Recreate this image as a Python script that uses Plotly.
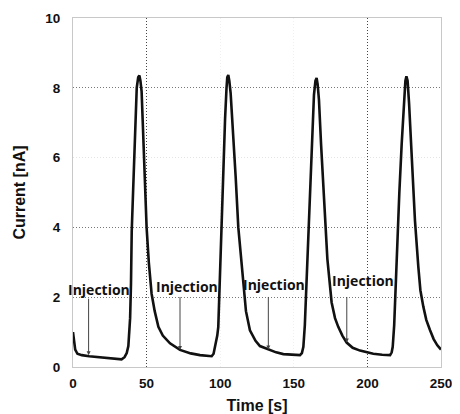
import plotly.graph_objects as go

time_s = [0, 0.8, 1.5, 3, 6, 11, 18, 25, 30, 33, 35, 36.5, 37.6, 38.3, 38.8, 39.4, 39.9,
          40.8, 41.6, 42.5, 43.3, 44.3, 45.1, 45.8, 46.6, 47.4, 48.2, 49.1, 50.0, 51.5,
          53.4, 55.5, 58, 61, 65.9, 72.7, 80, 86.3, 94.2, 95.5, 96.5, 98, 98.7, 99.3,
          99.9, 101, 102.1, 103.3, 104.3, 104.8, 105.5, 106.2, 107.1, 108.5, 110.0,
          110.5, 112.3, 114, 115.7, 117.5, 120.2, 124, 127, 132.7, 138, 142.9, 150,
          154.2, 155.5, 156.5, 157.5, 158.3, 159.9, 161, 162.2, 163.7, 164.7, 165.5,
          166.2, 167.1, 168.5, 170.5, 172.8, 175.7, 178, 180.2, 183, 185.9, 190, 195,
          200, 204, 210, 215.4, 216.5, 217.2, 218.2, 218.8, 220.3, 221.7, 223.3, 224.9,
          225.8, 226.5, 227.3, 228.3, 230.1, 232.3, 234.6, 236, 238, 240, 242.5, 245,
          247.5, 250]
current_nA = [1.0, 0.7, 0.5, 0.38, 0.34, 0.31, 0.28, 0.25, 0.22, 0.22, 0.28, 0.4, 0.6,
              1.0, 1.4, 2.4, 3.9, 5.0, 6.0, 7.2, 8.0, 8.3, 8.35, 8.2, 7.9, 7.0, 6.0, 5.0,
              4.0, 3.0, 2.1, 1.6, 1.15, 0.9, 0.68, 0.49, 0.39, 0.34, 0.31, 0.38, 0.58,
              0.9, 1.15, 2.0, 2.9, 3.9, 5.8, 7.1, 8.0, 8.3, 8.37, 8.2, 7.84, 6.9, 6.0,
              5.45, 4.0, 3.2, 2.4, 1.6, 1.05, 0.75, 0.6, 0.5, 0.42, 0.37, 0.35, 0.34,
              0.4, 0.58, 1.2, 2.1, 3.7, 5.0, 6.4, 7.8, 8.2, 8.28, 8.1, 7.65, 6.4, 4.7,
              3.1, 1.85, 1.4, 1.15, 0.9, 0.7, 0.55, 0.47, 0.42, 0.38, 0.35, 0.34, 0.42,
              0.58, 1.2, 1.9, 3.45, 5.0, 6.4, 7.8, 8.2, 8.33, 8.2, 7.56, 5.93, 4.2,
              2.87, 2.2, 1.73, 1.35, 1.06, 0.8, 0.62, 0.5]

injection_t = [10.6, 72.7, 132.7, 186.0]
injection_curve_y = [0.34, 0.49, 0.5, 0.7]
injection_arrow_top = [2.0, 2.05, 2.05, 2.05]
label_t = [17.7, 77.5, 136.7, 196.9]
label_y = [2.23, 2.32, 2.35, 2.49]
label_text = "Injection"

x_ticks = [0, 50, 100, 150, 200, 250]
y_ticks = [0, 2, 4, 6, 8, 10]
x_dark_grid = [50, 200]
y_dark_grid = [2, 4, 8]

tick_font = dict(family="Liberation Sans", size=13.5, color="#111")
title_font = dict(family="Liberation Sans", size=16, color="#111")

fig = go.Figure()
fig.add_trace(go.Scatter(x=time_s, y=current_nA, mode="lines",
                         line=dict(color="#111", width=2.6),
                         showlegend=False, hoverinfo="skip"))
fig.add_trace(go.Scatter(x=time_s, y=current_nA, mode="none", xaxis="x2", yaxis="y2",
                         showlegend=False, hoverinfo="skip"))

annotations = []
for t, yb, yt in zip(injection_t, injection_curve_y, injection_arrow_top):
    annotations.append(dict(x=t, y=yb, ax=t, ay=yt, xref="x", yref="y", axref="x", ayref="y",
                            showarrow=True, arrowhead=2, arrowsize=0.8, arrowwidth=1,
                            arrowcolor="#444", text=""))
for t, yl in zip(label_t, label_y):
    annotations.append(dict(x=t, y=yl, xref="x", yref="y", showarrow=False,
                            text="<b>" + label_text + "</b>",
                            font=dict(family="Open Sans", size=14, color="#111")))

# page body has an 8px margin, so the figure is sized 8px smaller than the window
fig.update_layout(
    width=452, height=406,
    margin=dict(l=65, r=19, t=10, b=47, autoexpand=False),
    paper_bgcolor="white", plot_bgcolor="white",
    xaxis=dict(range=[0, 250], tickvals=x_ticks, ticktext=[f"<b>{v}</b>" for v in x_ticks],
               tickfont=tick_font, showgrid=True, gridcolor="#f0f0f0", griddash="1px,2px",
               gridwidth=1, zeroline=False, showline=True, linecolor="#c8c8c8",
               linewidth=1, mirror=True, ticks="", ticklabelstandoff=4, automargin=False,
               title=dict(text="<b>Time [s]</b>", font=title_font, standoff=14)),
    yaxis=dict(range=[0, 10], tickvals=y_ticks, ticktext=[f"<b>{v}</b>" for v in y_ticks],
               tickfont=tick_font, showgrid=True, gridcolor="#e4e4e4", griddash="1px,2px",
               gridwidth=1, zeroline=False, showline=True, linecolor="#c8c8c8",
               linewidth=1, mirror=True, ticks="", ticklabelstandoff=9, automargin=False,
               title=dict(text="<b>Current [nA]</b>", font=title_font, standoff=15)),
    xaxis2=dict(range=[0, 250], overlaying="x", tickvals=x_dark_grid, showticklabels=False,
                showgrid=True, gridcolor="#444", griddash="1px,2px", gridwidth=1,
                zeroline=False, showline=False, ticks="", automargin=False),
    yaxis2=dict(range=[0, 10], overlaying="y", tickvals=y_dark_grid, showticklabels=False,
                showgrid=True, gridcolor="#777", griddash="1px,2px", gridwidth=1,
                zeroline=False, showline=False, ticks="", automargin=False),
    annotations=annotations,
)

fig.write_html("out.html")
